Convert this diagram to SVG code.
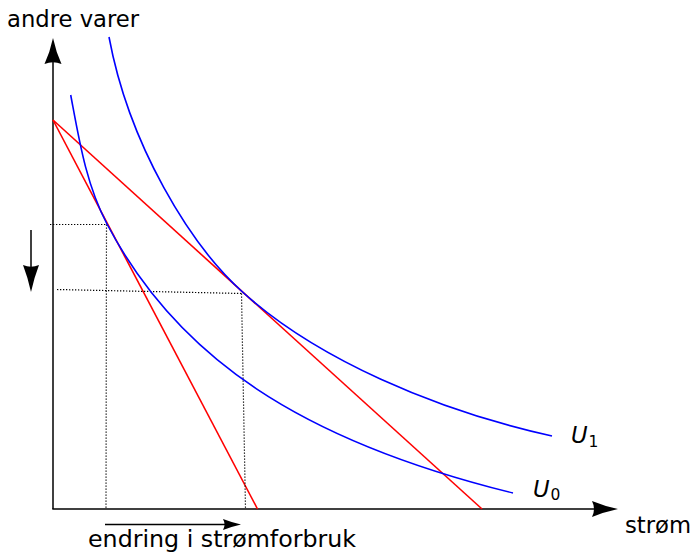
<svg xmlns="http://www.w3.org/2000/svg" width="695" height="553" viewBox="0 0 695 553">
  <style>
    .axis { stroke: #000; stroke-width: 1.5; fill: none; }
    .head { fill: #000; stroke: none; }
    .blue { stroke: #0000ff; stroke-width: 1.6; fill: none; }
    .red { stroke: #ff0000; stroke-width: 1.6; fill: none; }
    .dot { stroke: #000; stroke-width: 1.2; stroke-dasharray: 1.3 1.7; fill: none; }
    text { font-family: "DejaVu Sans", "Liberation Sans", sans-serif; fill: #000; }
    .lbl { font-size: 22.7px; }
    .u { font-size: 22.7px; font-style: italic; }
    .sub { font-size: 15.5px; font-style: normal; }
  </style>
  <rect width="695" height="553" fill="#fff"/>
  <g id="axes">
    <line class="axis" x1="53" y1="509" x2="53" y2="58"/>
    <path class="head" d="M53,38 Q56,52 61.5,64 Q53,60.5 44.5,64 Q50,52 53,38 Z"/>
    <line class="axis" x1="52.3" y1="509" x2="598" y2="509"/>
    <path class="head" d="M618,509 Q604,512 592,517 Q596,509 592,501 Q604,506 618,509 Z"/>
  </g>
  <g id="labels">
    <text id="y-label" class="lbl" x="7" y="26.7">andre varer</text>
    <text id="x-label" class="lbl" x="625" y="532.7">strøm</text>
    <text id="change-label" class="lbl" x="88" y="546.7" textLength="268" lengthAdjust="spacingAndGlyphs">endring i strømforbruk</text>
  </g>
  <g id="connectors">
    <line class="red" x1="53" y1="120" x2="257.5" y2="509"/>
    <line class="red" x1="53" y1="120" x2="482" y2="509"/>
    <line class="dot" x1="50" y1="224.5" x2="107" y2="224.5"/>
    <line class="dot" x1="106.5" y1="224.5" x2="106" y2="509"/>
    <line class="dot" x1="57" y1="289.5" x2="242" y2="293.5"/>
    <line class="dot" x1="241.5" y1="293.5" x2="245.5" y2="509"/>
    <line class="axis" x1="31" y1="230" x2="31" y2="272"/>
    <path class="head" d="M31,292 Q28,278 23,265 Q31,268.5 39,265 Q34,278 31,292 Z"/>
    <line class="axis" x1="105" y1="524.5" x2="228" y2="524.5"/>
    <path class="head" d="M241,524.5 Q232,526.5 223,530 Q226,524.5 223,519 Q232,522.5 241,524.5 Z"/>
  </g>
  <g id="U0">
    <path class="blue" d="M70.7,95 C79,139.2 86,184.2 107,224 C176.9,356.8 299.4,440.4 513,493"/>
    <text class="u" x="533" y="496.7">U<tspan class="sub" dx="1" dy="3.5">0</tspan></text>
  </g>
  <g id="U1">
    <path class="blue" d="M109,37 C129.1,145.1 190.1,244.5 242,291.5 C316.1,358.7 434.9,410 552,436"/>
    <text class="u" x="571" y="443.3">U<tspan class="sub" dx="1" dy="3.5">1</tspan></text>
  </g>
</svg>
